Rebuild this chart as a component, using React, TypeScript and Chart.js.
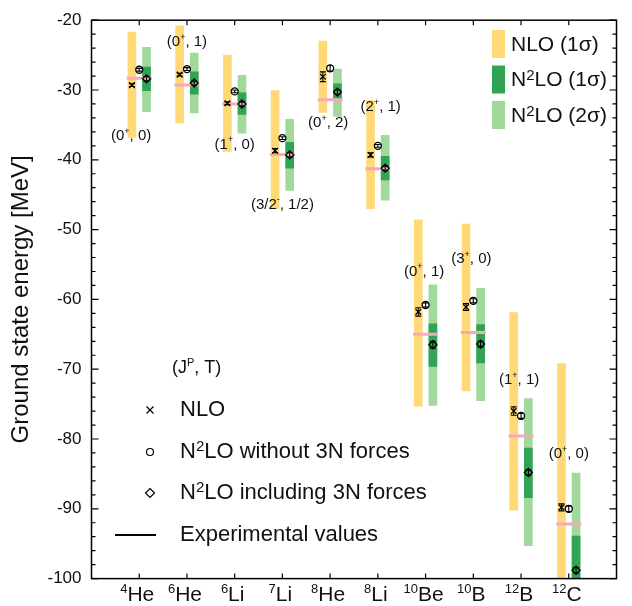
import React, { useEffect, useRef } from 'react';
import { Chart, registerables } from 'chart.js';

Chart.register(...registerables);

// ---------------- data ----------------
// nucleus labels (^{..} marks a superscript)
const nuclei = ['^{4}He', '^{6}He', '^{6}Li', '^{7}Li', '^{8}He', '^{8}Li', '^{10}Be', '^{10}B', '^{12}B', '^{12}C'];

// NLO 1σ band (yellow)
const nloLow = [-36.8, -34.7, -38.8, -47.0, -33.2, -47.0, -75.3, -73.1, -90.2, -101.0];
const nloHigh = [-21.7, -20.8, -25.0, -30.1, -23.0, -31.5, -48.6, -49.2, -61.9, -69.2];

// N2LO 1σ band (dark green)
const n2lo1Low = [-30.1, -30.6, -33.5, -41.2, -31.2, -42.9, -69.6, -69.1, -88.4, -101.0];
const n2lo1High = [-26.7, -27.4, -30.4, -37.5, -29.1, -39.5, -63.5, -63.6, -81.3, -93.9];

// N2LO 2σ band (light green)
const n2lo2Low = [-33.1, -33.3, -36.2, -44.4, -33.8, -45.8, -75.2, -74.5, -95.3, -101.0];
const n2lo2High = [-23.9, -24.7, -27.9, -34.2, -27.0, -36.5, -57.9, -58.4, -74.2, -84.9];

// central values
const nloValues = [-29.3, -27.8, -31.9, -38.7, -28.1, -39.3, -61.8, -61.1, -76.0, -89.8];
const nloErrors = [0.2, 0.2, 0.2, 0.3, 0.7, 0.3, 0.6, 0.5, 0.6, 0.5];
const n2loNo3NValues = [-27.1, -27.0, -30.2, -36.9, -26.9, -38.0, -60.8, -60.2, -76.7, -90.0];
const n2loNo3NErrors = [0.2, 0.2, 0.2, 0.2, 0.4, 0.2, 0.3, 0.3, 0.35, 0.4];
const n2lo3NValues = [-28.4, -29.0, -32.0, -39.3, -30.3, -41.2, -66.5, -66.4, -84.8, -98.8];
const n2lo3NErrors = [0.3, 0.3, 0.3, 0.3, 0.3, 0.3, 0.5, 0.4, 0.4, 0.4];
const expValues = [-28.3, -29.27, -31.99, -39.24, -31.4, -41.28, -64.98, -64.75, -79.58, -92.16];

// (J^P, T) labels of each ground state
const stateLabels = ['(0^{+}, 0)', '(0^{+}, 1)', '(1^{+}, 0)', '(3/2^{-}, 1/2)', '(0^{+}, 2)', '(2^{+}, 1)', '(0^{+}, 1)', '(3^{+}, 0)', '(1^{+}, 1)', '(0^{+}, 0)'];

// y-axis tick range
const yMin = -100;
const yMax = -20;
const yMajorStep = 10;
const yMinorStep = 2;

// ---------------- layout / style (not data) ----------------
const stateLabelX = [-0.17, 0, 0, 0, -0.04, 0.06, -0.03, -0.04, -0.04, 0];
const stateLabelY = [-36.6, -23.1, -37.8, -46.4, -34.7, -32.4, -56.0, -54.2, -71.5, -82.1];

const FONT = '"Liberation Sans", Arial, Helvetica, sans-serif';
const TEXT = '#111111';
const YELLOW = '#fed976';
const DARK_GREEN = '#31a354';
const LIGHT_GREEN = '#a1d99b';
const PINK = '#f6a8bc';
const SHIFT = 0.153;

function drawRich(
  ctx: CanvasRenderingContext2D,
  text: string,
  x: number,
  y: number,
  size: number,
  align: 'left' | 'center',
  supRatio = 0.62,
  supRaise = 0.3,
) {
  const parts: { t: string; sup: boolean }[] = [];
  const re = /\^\{([^}]*)\}/g;
  let last = 0;
  let m: RegExpExecArray | null;
  while ((m = re.exec(text))) {
    if (m.index > last) parts.push({ t: text.slice(last, m.index), sup: false });
    parts.push({ t: m[1], sup: true });
    last = m.index + m[0].length;
  }
  if (last < text.length) parts.push({ t: text.slice(last), sup: false });
  const supSize = Math.round(size * supRatio);
  let total = 0;
  for (const p of parts) {
    ctx.font = `${p.sup ? supSize : size}px ${FONT}`;
    total += ctx.measureText(p.t).width;
  }
  let cx = align === 'center' ? x - total / 2 : x;
  ctx.textAlign = 'left';
  ctx.textBaseline = 'middle';
  for (const p of parts) {
    ctx.font = `${p.sup ? supSize : size}px ${FONT}`;
    ctx.fillText(p.t, cx, p.sup ? y - size * supRaise : y);
    cx += ctx.measureText(p.t).width;
  }
}

const decorPlugin = {
  id: 'decor',
  afterDatasetsDraw(chart: any) {
    const ctx: CanvasRenderingContext2D = chart.ctx;
    const xs = chart.scales.x;
    const ys = chart.scales.y;
    const area = chart.chartArea;
    ctx.save();
    ctx.beginPath();
    ctx.rect(area.left, area.top, area.right - area.left, area.bottom - area.top);
    ctx.clip();
    ctx.strokeStyle = '#000';
    ctx.lineWidth = 1.1;
    const series: [number[], number[], number][] = [
      [nloValues, nloErrors, -SHIFT],
      [n2loNo3NValues, n2loNo3NErrors, 0],
      [n2lo3NValues, n2lo3NErrors, SHIFT],
    ];
    for (const [vals, errs, off] of series) {
      vals.forEach((v, i) => {
        const px = xs.getPixelForValue(i + 1 + off);
        const y1 = ys.getPixelForValue(v + errs[i]);
        const y2 = ys.getPixelForValue(v - errs[i]);
        ctx.beginPath();
        ctx.moveTo(px, y1);
        ctx.lineTo(px, y2);
        ctx.moveTo(px - 3, y1);
        ctx.lineTo(px + 3, y1);
        ctx.moveTo(px - 3, y2);
        ctx.lineTo(px + 3, y2);
        ctx.stroke();
      });
    }
    ctx.restore();
  },
  afterDraw(chart: any) {
    const ctx: CanvasRenderingContext2D = chart.ctx;
    const xs = chart.scales.x;
    const ys = chart.scales.y;
    const { left, right, top, bottom } = chart.chartArea;
    ctx.save();
    // frame
    ctx.strokeStyle = '#000';
    ctx.lineWidth = 1.5;
    ctx.strokeRect(left, top, right - left, bottom - top);
    // inward ticks
    ctx.lineWidth = 1.2;
    ctx.beginPath();
    for (let v = yMin; v <= yMax; v += yMinorStep) {
      const py = ys.getPixelForValue(v);
      const len = v % yMajorStep === 0 ? 7 : 4;
      ctx.moveTo(left, py);
      ctx.lineTo(left + len, py);
      ctx.moveTo(right, py);
      ctx.lineTo(right - len, py);
    }
    nuclei.forEach((_, i) => {
      const px = xs.getPixelForValue(i + 1);
      ctx.moveTo(px, bottom);
      ctx.lineTo(px, bottom - 5);
      ctx.moveTo(px, top);
      ctx.lineTo(px, top + 5);
    });
    ctx.stroke();

    // category labels under the x axis
    ctx.fillStyle = TEXT;
    nuclei.forEach((s, i) => {
      drawRich(ctx, s, xs.getPixelForValue(i + 1) - 2, bottom + 17, 21, 'center', 0.62, 0.28);
    });

    // state labels
    stateLabels.forEach((s, i) => {
      drawRich(ctx, s, xs.getPixelForValue(i + 1 + stateLabelX[i]), ys.getPixelForValue(stateLabelY[i]), 15, 'center');
    });

    // band legend (upper right)
    const bands: [string, string][] = [
      [YELLOW, 'NLO (1σ)'],
      [DARK_GREEN, 'N^{2}LO (1σ)'],
      [LIGHT_GREEN, 'N^{2}LO (2σ)'],
    ];
    bands.forEach(([c, t], k) => {
      const cy = 44 + k * 35.5;
      ctx.fillStyle = c;
      ctx.fillRect(492, cy - 14, 13, 28);
      ctx.fillStyle = TEXT;
      drawRich(ctx, t, 511, cy + 1, 21, 'left', 0.7, 0.22);
    });

    // marker legend (lower left)
    ctx.fillStyle = TEXT;
    drawRich(ctx, '(J^{P}, T)', 172, 368, 18, 'left');
    const lx = 150;
    ctx.strokeStyle = '#000';
    ctx.lineWidth = 1.2;
    ctx.beginPath();
    ctx.moveTo(lx - 3.5, 410 - 3.5);
    ctx.lineTo(lx + 3.5, 410 + 3.5);
    ctx.moveTo(lx + 3.5, 410 - 3.5);
    ctx.lineTo(lx - 3.5, 410 + 3.5);
    ctx.stroke();
    ctx.beginPath();
    ctx.arc(lx, 452, 3.5, 0, Math.PI * 2);
    ctx.stroke();
    ctx.beginPath();
    ctx.moveTo(lx, 493 - 4.5);
    ctx.lineTo(lx + 4.5, 493);
    ctx.lineTo(lx, 493 + 4.5);
    ctx.lineTo(lx - 4.5, 493);
    ctx.closePath();
    ctx.stroke();
    ctx.lineWidth = 2;
    ctx.beginPath();
    ctx.moveTo(115, 535);
    ctx.lineTo(156, 535);
    ctx.stroke();
    ctx.fillStyle = TEXT;
    drawRich(ctx, 'NLO', 180, 410, 22, 'left');
    drawRich(ctx, 'N^{2}LO without 3N forces', 180, 452, 22, 'left', 0.7, 0.22);
    drawRich(ctx, 'N^{2}LO including 3N forces', 180, 493, 22, 'left', 0.7, 0.22);
    drawRich(ctx, 'Experimental values', 180, 535, 22, 'left');
    ctx.restore();
  },
};

export default function App() {
  const ref = useRef<HTMLCanvasElement | null>(null);
  useEffect(() => {
    document.body.style.margin = '0';
    const canvas = ref.current!;
    const bar = (lo: number[], hi: number[], off: number) =>
      nuclei.map((_, i) => ({ x: i + 1 + off, y: [lo[i], hi[i]] }));
    const pts = (vals: number[], off: number) => nuclei.map((_, i) => ({ x: i + 1 + off, y: vals[i] }));
    const chart = new Chart(canvas, {
      type: 'bar',
      data: {
        datasets: [
          {
            type: 'scatter',
            label: 'NLO',
            data: pts(nloValues, -SHIFT),
            pointStyle: 'crossRot',
            pointRadius: 4,
            borderColor: '#000',
            borderWidth: 1.3,
            order: 0,
          } as any,
          {
            type: 'scatter',
            label: 'N2LO without 3N forces',
            data: pts(n2loNo3NValues, 0),
            pointStyle: 'circle',
            pointRadius: 3.5,
            backgroundColor: 'rgba(255,255,255,0)',
            borderColor: '#000',
            borderWidth: 1.3,
            order: 0,
          },
          {
            type: 'scatter',
            label: 'N2LO including 3N forces',
            data: pts(n2lo3NValues, SHIFT),
            pointStyle: 'rectRot',
            pointRadius: 4,
            backgroundColor: 'rgba(255,255,255,0)',
            borderColor: '#000',
            borderWidth: 1.3,
            order: 0,
          },
          {
            type: 'scatter',
            label: 'Experimental values',
            data: pts(expValues, 0),
            pointStyle: 'line',
            pointRadius: 12.5,
            borderColor: PINK,
            borderWidth: 3,
            order: 1,
          },
          {
            label: 'N2LO (1σ)',
            data: bar(n2lo1Low, n2lo1High, SHIFT),
            backgroundColor: DARK_GREEN,
            barThickness: 8,
            grouped: false,
            order: 2,
          } as any,
          {
            label: 'N2LO (2σ)',
            data: bar(n2lo2Low, n2lo2High, SHIFT),
            backgroundColor: LIGHT_GREEN,
            barThickness: 8,
            grouped: false,
            order: 3,
          } as any,
          {
            label: 'NLO (1σ)',
            data: bar(nloLow, nloHigh, -SHIFT),
            backgroundColor: YELLOW,
            barThickness: 8,
            grouped: false,
            order: 4,
          } as any,
        ],
      },
      options: {
        responsive: false,
        animation: false,
        events: [],
        layout: { padding: { left: 0, right: 2.5, top: 14.6, bottom: 0 } },
        plugins: { legend: { display: false }, tooltip: { enabled: false } },
        scales: {
          x: {
            type: 'linear',
            min: 0,
            max: 11,
            offset: false,
            grid: { display: false, drawTicks: false },
            border: { display: false },
            afterBuildTicks: (s: any) => {
              s.ticks = nuclei.map((_, i) => ({ value: i + 1 }));
            },
            afterFit: (s: any) => {
              s.height = 27.4;
            },
            ticks: { display: false },
          },
          y: {
            type: 'linear',
            min: yMin,
            max: yMax,
            grid: { display: false, drawTicks: false },
            border: { display: false },
            afterFit: (s: any) => {
              s.width = 91.5;
            },
            ticks: {
              stepSize: yMajorStep,
              padding: 10,
              color: TEXT,
              font: { family: FONT, size: 17 },
            },
            title: {
              display: true,
              text: 'Ground state energy [MeV]',
              color: TEXT,
              font: { family: FONT, size: 24 },
              padding: { top: 7, bottom: 0 },
            },
          },
        },
      },
      plugins: [decorPlugin],
    });
    return () => chart.destroy();
  }, []);
  return (
    <div style={{ position: 'absolute', left: 0, top: 0, width: 632, height: 606 }}>
      <canvas ref={ref} width={632} height={606} style={{ width: 632, height: 606, display: 'block' }} />
    </div>
  );
}
